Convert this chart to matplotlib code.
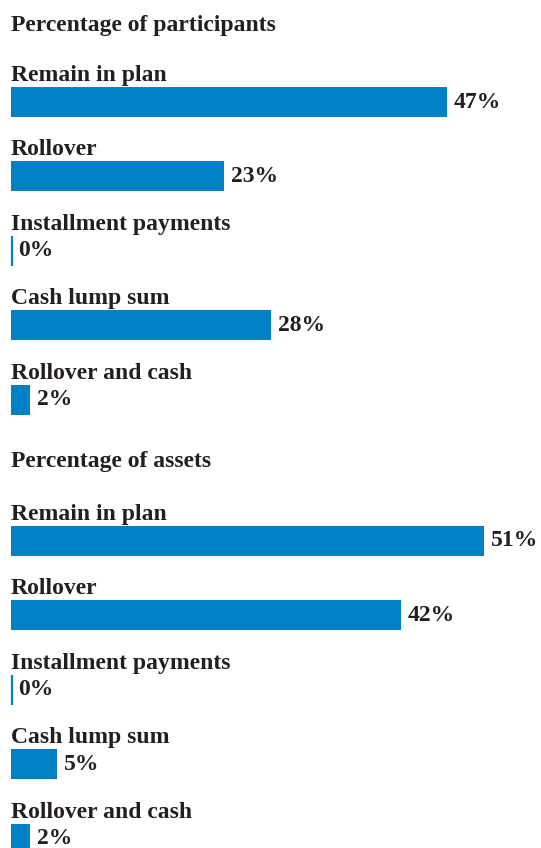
import matplotlib
matplotlib.use("Agg")
import matplotlib.pyplot as plt

# Distribution choices of participants leaving the plan
categories = ["Remain in plan", "Rollover", "Installment payments",
              "Cash lump sum", "Rollover and cash"]
pct_participants = [47, 23, 0, 28, 2]
pct_assets = [51, 42, 0, 5, 2]
panel_titles = ["Percentage of participants", "Percentage of assets"]

BAR_COLOR = "#0081c6"
TEXT_COLOR = "#231f20"
FONT = "Liberation Serif"
FS = 17

W, H = 541, 848
fig = plt.figure(figsize=(W / 100, H / 100), dpi=100)
ax = fig.add_axes([0, 0, 1, 1])

# x in percent, y in pixel rows from the top
px_per_pct = 9.28
x0 = 11
ax.set_xlim(-x0 / px_per_pct, (W - x0) / px_per_pct)
ax.set_ylim(H, 0)
ax.axis("off")

bar_h = 30
step = 74.4
panels = [(pct_participants, 25, 87), (pct_assets, 462, 526)]

for (values, title_y, first_top), title in zip(panels, panel_titles):
    ax.text(0, title_y, title, family=FONT, fontsize=FS, fontweight="bold",
            color=TEXT_COLOR, va="center", ha="left")
    for i, (cat, v) in enumerate(zip(categories, values)):
        top = first_top + i * step
        yc = top + bar_h / 2
        ax.barh(yc, v, height=bar_h, left=0, color=BAR_COLOR, linewidth=0)
        if v == 0:
            ax.vlines(0.1, top, top + bar_h, color=BAR_COLOR, linewidth=1.6)
        ax.text(0, top - 6, cat, family=FONT, fontsize=FS, fontweight="bold",
                color=TEXT_COLOR, va="baseline", ha="left")
        ax.annotate(f"{v}%", xy=(v, yc), xytext=(5, 0),
                    textcoords="offset points", family=FONT, fontsize=FS,
                    fontweight="bold", color=TEXT_COLOR, va="center",
                    ha="left")

fig.savefig("out.png", dpi=100, facecolor="white")
